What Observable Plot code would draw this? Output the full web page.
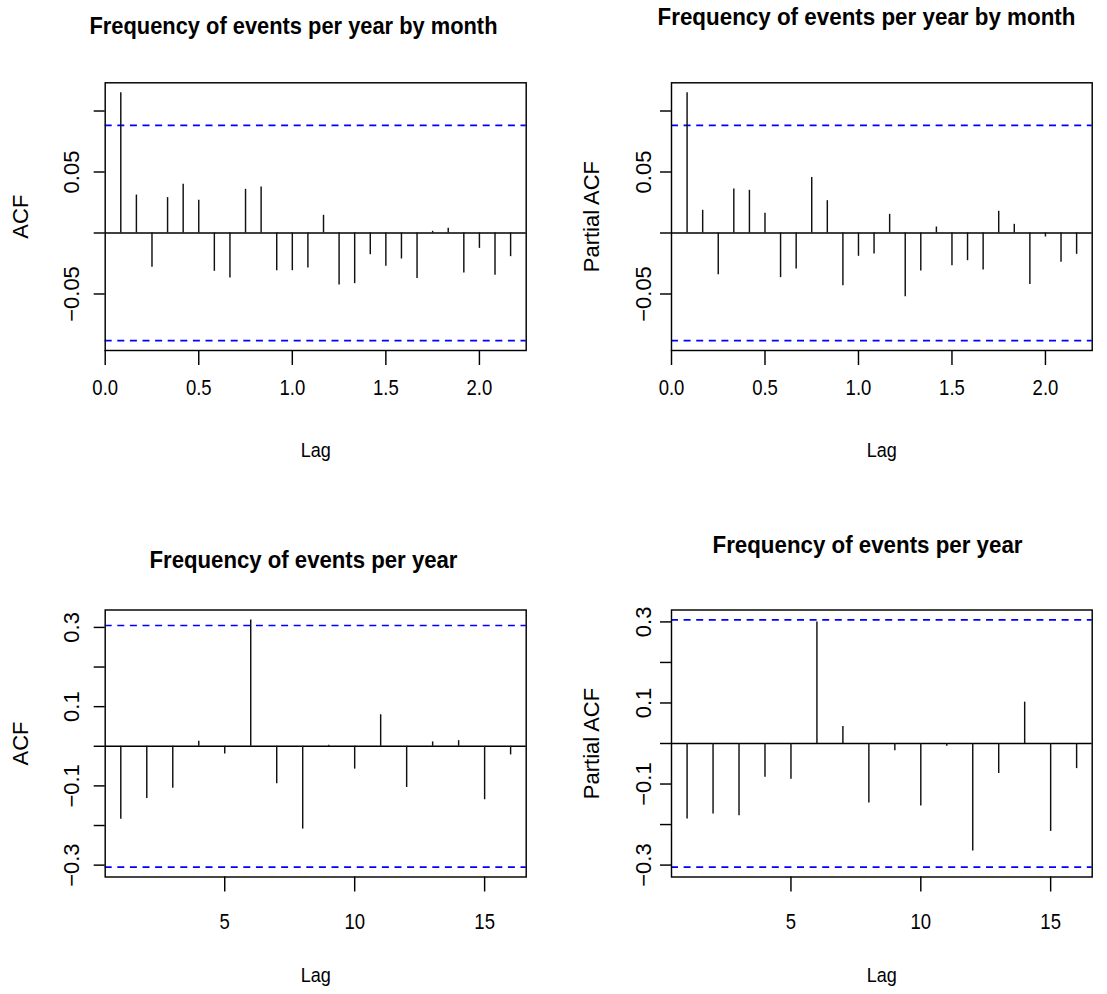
<!DOCTYPE html>
<html>
<head>
<meta charset="utf-8">
<script src="https://cdn.jsdelivr.net/npm/d3@7"></script>
<script src="https://cdn.jsdelivr.net/npm/@observablehq/plot@0.6"></script>
<style>
  html, body { margin: 0; padding: 0; background: #fff; }
  #wrap { position: relative; width: 1107px; height: 994px; background: #fff; overflow: hidden; }
  #wrap > svg { position: absolute; }
</style>
</head>
<body>
<div id="wrap"></div>
<script>
// ---------- data ----------
const monthLags = [0.0833, 0.1667, 0.25, 0.3333, 0.4167, 0.5, 0.5833, 0.6667, 0.75, 0.8333,
  0.9167, 1.0, 1.0833, 1.1667, 1.25, 1.3333, 1.4167, 1.5, 1.5833, 1.6667,
  1.75, 1.8333, 1.9167, 2.0, 2.0833, 2.1667];
const monthAcf = [0.115, 0.0311, -0.0281, 0.0290, 0.0399, 0.0268, -0.0314, -0.0369, 0.0358, 0.0377,
  -0.0309, -0.0309, -0.0287, 0.0145, -0.0426, -0.0415, -0.0178, -0.0273, -0.0213, -0.0374,
  0.0014, 0.0038, -0.0328, -0.0126, -0.0347, -0.0194];
const monthPacf = [0.115, 0.0186, -0.0342, 0.0361, 0.0350, 0.0161, -0.0366, -0.0295, 0.0454, 0.0265,
  -0.0432, -0.0191, -0.0172, 0.0153, -0.0522, -0.0311, 0.0049, -0.0268, -0.0227, -0.0303,
  0.0178, 0.0071, -0.0423, -0.0033, -0.0240, -0.0175];
const monthClim = 0.0882;

const yearLags = [1, 2, 3, 4, 5, 6, 7, 8, 9, 10, 11, 12, 13, 14, 15, 16];
const yearAcf = [-0.184, -0.132, -0.106, 0.0126, -0.0192, 0.319, -0.0946, -0.209, 0.0025, -0.0577,
  0.0795, -0.104, 0.011, 0.0142, -0.135, -0.0218];
const yearPacf = [-0.186, -0.174, -0.178, -0.083, -0.088, 0.300, 0.042, -0.147, -0.018, -0.154,
  -0.007, -0.265, -0.074, 0.102, -0.217, -0.062];
const yearClim = 0.305;

const titleMonth = "Frequency of events per year by month";
const titleYear = "Frequency of events per year";
const xLabel = "Lag";

const monthXTicks = [0, 0.5, 1, 1.5, 2];
const monthYTicks = [-0.05, 0, 0.05, 0.10];
const monthYLabels = [-0.05, 0.05];
const yearXTicks = [5, 10, 15];
const yearYTicks = [-0.3, -0.2, -0.1, 0, 0.1, 0.2, 0.3];
const yearYLabels = [-0.3, -0.1, 0.1, 0.3];

// ---------- drawing ----------
const FONT = "'Liberation Sans', Arial, Helvetica, sans-serif";
const XTICK_SIZE = 22.5, XTICK_SQUEEZE = 18.5 / 22.5;
const LAG_SIZE = 20.5, LAG_SQUEEZE = 0.88;
const TITLE_SIZE = 23.5;
const LW = 1.45;

function extend4(lo, hi) {
  const d = (hi - lo) * 0.04;
  return [lo - d, hi + d];
}

// narrow the glyphs of horizontal texts (the reference's text is tall and narrow)
function squeeze(svg, contents, widthOf) {
  svg.querySelectorAll("text").forEach(t => {
    const s = t.textContent;
    if (contents.has(s)) {
      const L = t.getComputedTextLength();
      t.setAttribute("textLength", widthOf(s, L));
      t.setAttribute("lengthAdjust", "spacingAndGlyphs");
    }
  });
}

function panel(o) {
  const data = o.lags.map((lag, i) => ({lag, v: o.vals[i]}));
  const xd = extend4(d3.min(o.lags), d3.max(o.lags));
  const yd = extend4(Math.min(-o.clim, d3.min(o.vals)), Math.max(o.clim, d3.max(o.vals)));
  const f = o.frame, b = o.box;
  const mL = f.l - b.x, mR = b.x + b.w - f.r, mT = f.t - b.y, mB = b.y + b.h - f.b;
  const fcx = (f.l + f.r) / 2;
  const svg = Plot.plot({
    width: b.w, height: b.h,
    marginLeft: mL, marginRight: mR, marginTop: mT, marginBottom: mB,
    style: {fontFamily: FONT, color: "black", background: "white", overflow: "visible"},
    x: {domain: xd},
    y: {domain: yd},
    marks: [
      Plot.ruleY([o.clim, -o.clim], {stroke: "#0000ff", strokeWidth: 1.6, strokeDasharray: "7,5.6"}),
      Plot.ruleY([0], {stroke: "black", strokeWidth: LW}),
      Plot.ruleX(data, {x: "lag", y1: 0, y2: "v", stroke: "#111", strokeWidth: LW}),
      Plot.frame({stroke: "black", strokeWidth: LW}),
      Plot.axisX({ticks: o.xTicks, tickSize: 15, tickFormat: () => "", label: null, strokeWidth: LW}),
      Plot.axisY({ticks: o.yTicks, tickSize: 11, tickFormat: () => "", label: null, strokeWidth: LW}),
      Plot.text(o.xTicks, {x: d => d, text: d => o.xFmt(d), frameAnchor: "bottom",
        textAnchor: "middle", lineAnchor: "bottom", dy: o.xLabDy, fontSize: XTICK_SIZE}),
      Plot.text(o.yLabels, {y: d => d, text: d => o.yFmt(d), frameAnchor: "left", rotate: -90,
        textAnchor: "middle", lineAnchor: "bottom", dx: o.yLabDx, fontSize: 22}),
      Plot.text([o.yTitle], {frameAnchor: "left", rotate: -90, textAnchor: "middle",
        lineAnchor: "bottom", dx: o.yTitleDx, fontSize: 22}),
      Plot.text([xLabel], {frameAnchor: "bottom", textAnchor: "middle", lineAnchor: "bottom",
        dy: o.xTitleDy, fontSize: LAG_SIZE}),
      Plot.text([o.title], {frameAnchor: "top", textAnchor: "middle", lineAnchor: "bottom",
        dy: o.titleBase - f.t, dx: o.titleCx - fcx, fontSize: TITLE_SIZE, fontWeight: "bold"})
    ]
  });
  svg.style.left = b.x + "px";
  svg.style.top = b.y + "px";
  document.getElementById("wrap").appendChild(svg);
  const tickTexts = new Set(o.xTicks.map(o.xFmt));
  squeeze(svg, tickTexts, (s, L) => L * XTICK_SQUEEZE);
  squeeze(svg, new Set([xLabel]), (s, L) => L * LAG_SQUEEZE);
  squeeze(svg, new Set([o.title]), (s, L) => o.titleWidth);
}

const fmt1 = d3.format(".1f");
const fmt2 = d3.format(".2f");
const fmt0 = d3.format("d");

panel({
  lags: monthLags, vals: monthAcf, clim: monthClim,
  box: {x: 0, y: 0, w: 553, h: 497},
  frame: {l: 104.7, r: 525.7, t: 82.3, b: 350},
  xTicks: monthXTicks, xFmt: fmt1, xLabDy: 44.5,
  yTicks: monthYTicks, yLabels: monthYLabels, yFmt: fmt2,
  yLabDx: -26.5, yTitle: "ACF", yTitleDx: -77.5, xTitleDy: 106,
  title: titleMonth, titleCx: 293, titleBase: 33.5, titleWidth: 408
});
panel({
  lags: monthLags, vals: monthPacf, clim: monthClim,
  box: {x: 553, y: 0, w: 554, h: 497},
  frame: {l: 671, r: 1091.7, t: 82.3, b: 350},
  xTicks: monthXTicks, xFmt: fmt1, xLabDy: 44.5,
  yTicks: monthYTicks, yLabels: monthYLabels, yFmt: fmt2,
  yLabDx: -21, yTitle: "Partial ACF", yTitleDx: -73, xTitleDy: 106,
  title: titleMonth, titleCx: 866, titleBase: 24, titleWidth: 418
});
panel({
  lags: yearLags, vals: yearAcf, clim: yearClim,
  box: {x: 0, y: 497, w: 553, h: 497},
  frame: {l: 104.7, r: 525.7, t: 609.5, b: 876.5},
  xTicks: yearXTicks, xFmt: fmt0, xLabDy: 51.5,
  yTicks: yearYTicks, yLabels: yearYLabels, yFmt: fmt1,
  yLabDx: -26.5, yTitle: "ACF", yTitleDx: -77.5, xTitleDy: 105,
  title: titleYear, titleCx: 303, titleBase: 567, titleWidth: 308
});
panel({
  lags: yearLags, vals: yearPacf, clim: yearClim,
  box: {x: 553, y: 497, w: 554, h: 497},
  frame: {l: 671, r: 1091.7, t: 609.5, b: 876.5},
  xTicks: yearXTicks, xFmt: fmt0, xLabDy: 51.5,
  yTicks: yearYTicks, yLabels: yearYLabels, yFmt: fmt1,
  yLabDx: -21, yTitle: "Partial ACF", yTitleDx: -73, xTitleDy: 105,
  title: titleYear, titleCx: 867, titleBase: 552, titleWidth: 310
});
</script>
</body>
</html>
